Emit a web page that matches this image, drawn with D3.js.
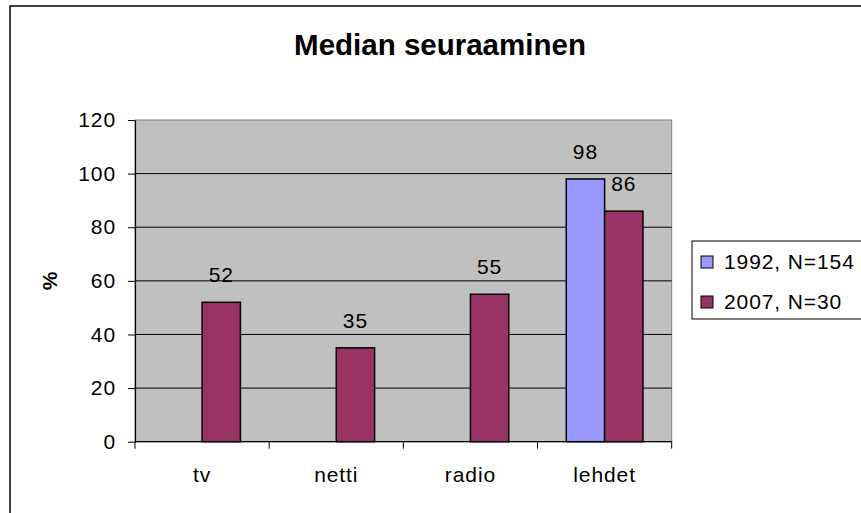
<!DOCTYPE html>
<html>
<head>
<meta charset="utf-8">
<script src="https://cdn.jsdelivr.net/npm/d3@7"></script>
<style>
  body { margin: 0; background: #fff; }
  text { font-family: "Liberation Sans", Arial, sans-serif; fill: #000; }
  .lab { font-size: 21px; letter-spacing: 0.9px; }
</style>
</head>
<body>
<div id="chart"></div>
<script>
// data
var categories = ["tv", "netti", "radio", "lehdet"]
var series = ["1992, N=154", "2007, N=30"]
var values1992 = [null, null, null, 98]
var values2007 = [52, 35, 55, 86]
var yticks = [0, 20, 40, 60, 80, 100, 120]
var colors = ["#9999FF", "#993366"]

var width = 861, height = 513
var margins = {left: 135, top: 120, right: 861 - 671.7, bottom: 513 - 441.7}
var inner_width = width - margins.left - margins.right
var inner_height = height - margins.top - margins.bottom

var svg = d3.select("#chart").append("svg")
            .attr("width", width)
            .attr("height", height)

// outer chart border (only left and top are visible in the picture)
svg.append("rect")
   .attr("x", 10).attr("y", 6)
   .attr("width", 900).attr("height", 600)
   .attr("fill", "#fff")
   .attr("stroke", "#000")
   .attr("stroke-width", 1.5)

svg.append("text")
   .attr("x", 440).attr("y", 55)
   .attr("text-anchor", "middle")
   .style("font-size", "29.5px")
   .style("font-weight", "bold")
   .text("Median seuraaminen")

var g = svg.append("g")
           .attr("transform", "translate(" + margins.left + "," + margins.top + ")")

var x = d3.scaleBand().domain(categories).range([0, inner_width])
var xs = d3.scaleBand().domain(series).range([0, x.bandwidth()]).paddingOuter(0.75)
var y = d3.scaleLinear().domain([0, 120]).range([inner_height, 0])

// plot area
g.append("rect")
 .attr("width", inner_width).attr("height", inner_height)
 .attr("fill", "#C0C0C0")
 .attr("stroke", "#808080")
 .attr("stroke-width", 1)

// gridlines
g.selectAll(".grid").data(yticks.filter(function (d) { return d > 0 && d < 120 }))
 .enter().append("line")
 .attr("x1", 0).attr("x2", inner_width)
 .attr("y1", function (d) { return y(d) }).attr("y2", function (d) { return y(d) })
 .attr("stroke", "#000").attr("stroke-width", 1)

// bars
var rows = []
categories.forEach(function (c, i) {
   rows.push({cat: c, s: series[0], v: values1992[i], color: colors[0]})
   rows.push({cat: c, s: series[1], v: values2007[i], color: colors[1]})
})
rows = rows.filter(function (d) { return d.v != null })

g.selectAll(".bar").data(rows)
 .enter().append("rect")
 .attr("x", function (d) { return x(d.cat) + xs(d.s) })
 .attr("y", function (d) { return y(d.v) })
 .attr("width", xs.bandwidth())
 .attr("height", function (d) { return inner_height - y(d.v) })
 .attr("fill", function (d) { return d.color })
 .attr("stroke", "#000").attr("stroke-width", 1.5)

g.selectAll(".lbl").data(rows)
 .enter().append("text")
 .attr("class", "lab")
 .attr("x", function (d) { return x(d.cat) + xs(d.s) + xs.bandwidth() / 2 })
 .attr("y", function (d) { return y(d.v) - 20 })
 .attr("text-anchor", "middle")
 .text(function (d) { return d.v })

// y axis
var ya = g.append("g")
          .call(d3.axisLeft(y).tickValues(yticks).tickSize(7).tickPadding(12).tickSizeOuter(0))
ya.select(".domain").attr("stroke", "#000").attr("stroke-width", 1.2)
ya.selectAll("text").attr("class", "lab").attr("font-family", null)
ya.attr("font-size", null)

// x axis: ticks at category boundaries
var xa = g.append("g").attr("transform", "translate(0," + inner_height + ")")
xa.append("line").attr("x1", 0).attr("x2", inner_width).attr("stroke", "#000").attr("stroke-width", 1.2)
var bounds = categories.map(function (c) { return x(c) }).concat([inner_width])
xa.selectAll(".tk").data(bounds)
  .enter().append("line")
  .attr("x1", function (d) { return d }).attr("x2", function (d) { return d })
  .attr("y1", 0).attr("y2", 7)
  .attr("stroke", "#000").attr("stroke-width", 1)
xa.selectAll(".cl").data(categories)
  .enter().append("text")
  .attr("class", "lab")
  .attr("x", function (d) { return x(d) + x.bandwidth() / 2 })
  .attr("y", 40)
  .attr("text-anchor", "middle")
  .text(function (d) { return d })

// y title
svg.append("text")
   .attr("transform", "translate(57,281) rotate(-90)")
   .attr("text-anchor", "middle")
   .style("font-size", "21px")
   .style("font-weight", "bold")
   .text("%")

// legend
var lg = svg.append("g").attr("transform", "translate(692,241)")
lg.append("rect").attr("width", 180).attr("height", 78)
  .attr("fill", "#fff").attr("stroke", "#000").attr("stroke-width", 1)
series.forEach(function (s, i) {
   lg.append("rect")
     .attr("x", 9).attr("y", 15 + i * 40)
     .attr("width", 12).attr("height", 12)
     .attr("fill", colors[i]).attr("stroke", "#000").attr("stroke-width", 1)
   lg.append("text")
     .attr("class", "lab")
     .attr("x", 32).attr("y", 28 + i * 40)
     .text(s)
})
</script>
</body>
</html>
